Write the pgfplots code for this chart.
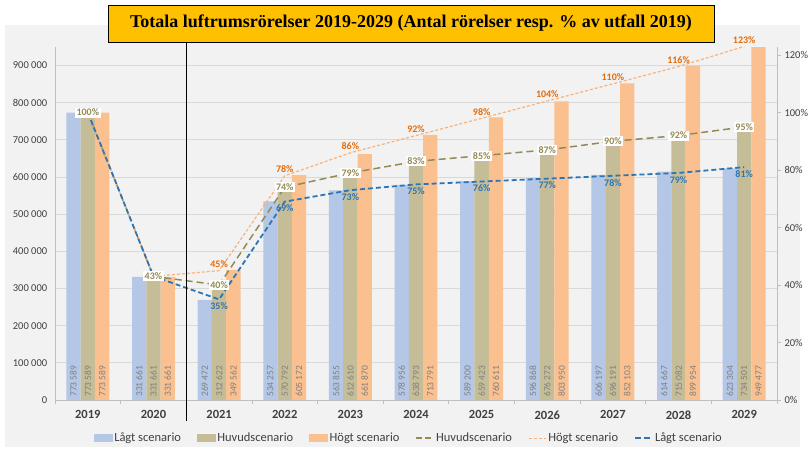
\documentclass[border=0pt]{standalone}
\usepackage{fontspec}
\setmainfont{Carlito}
\newfontfamily\titlefont{Liberation Serif}
\usepackage{pgfplots}
\pgfplotsset{compat=1.18}

\definecolor{lagt}{HTML}{B4C7E7}
\definecolor{huvud}{HTML}{C4BD97}
\definecolor{hogt}{HTML}{FAC090}
\definecolor{lagtline}{HTML}{2E75B6}
\definecolor{huvudline}{HTML}{948A54}
\definecolor{hogtline}{HTML}{F9B27C}
\definecolor{hogttext}{HTML}{E46C0A}
\definecolor{bg}{HTML}{F2F2F2}
\definecolor{gridc}{HTML}{D9D9D9}
\definecolor{axisc}{HTML}{BFBFBF}
\definecolor{titlebg}{HTML}{FFC000}
\definecolor{txt}{HTML}{404040}

\pgfplotsset{
  base/.style={
    at={(0,0)}, anchor=south west, scale only axis,
    width=722pt, height=353pt,
    xmin=-0.5, xmax=10.5,
    /pgf/number format/assume math mode=true,
    tick label style={text=txt, font=\fontsize{10.5}{12}\selectfont},
  },
  barlabels/.style={
    nodes near coords={\pgfmathprintnumber[fixed,precision=0,1000 sep={\hspace{0.22em}}]{\pgfplotspointmeta}},
    visualization depends on={y \as \rawy},
    every node near coord/.append style={
      shift={(axis direction cs:0,-\rawy)}, yshift=2pt, rotate=90, anchor=west,
      text=gray, font=\fontsize{9.5}{10}\selectfont, inner sep=1pt},
  },
  box legend/.style={legend image code/.code={
    \fill[#1] (0pt,-3.5pt) rectangle (18pt,4pt);}},
}

\begin{document}
\begin{tikzpicture}
\useasboundingbox (-55pt,-49pt) rectangle (755pt,400pt);
\fill[white] (-55pt,-49pt) rectangle (755pt,400pt);
\fill[bg] (-50pt,-47pt) rectangle (745pt,375pt);

\begin{axis}[base,
  ymin=0, ymax=950000, scaled y ticks=false,
  axis x line*=bottom, axis y line*=left,
  axis line style={axisc, line width=0.8pt},
  xtick={0,...,10},
  xticklabels={2019,2020,2021,2022,2023,2024,2025,2026,2027,2028,2029},
  x tick label style={font=\bfseries\fontsize{12.5}{14}\selectfont, yshift=-3pt},
  major x tick style={draw=none},
  minor xtick={-0.5,0.5,...,10.5},
  minor x tick style={axisc, line width=0.8pt},
  minor tick length=4pt, tick align=outside,
  ytick={0,100000,...,900000},
  yticklabels={0,100 000,200 000,300 000,400 000,500 000,600 000,700 000,800 000,900 000},
  major y tick style={draw=none},
  ymajorgrids, grid style={gridc, line width=0.8pt},
  ybar=0pt, bar width=14.3pt,
]
\addplot[fill=lagt, draw=none, barlabels] coordinates {
  (0,773589) (1,331661) (2,269472) (3,534257) (4,563855) (5,578956)
  (6,589200) (7,596868) (8,606197) (9,614667) (10,623304)};
\addplot[fill=huvud, draw=none, barlabels] coordinates {
  (0,773589) (1,331661) (2,312622) (3,570792) (4,612610) (5,638793)
  (6,659423) (7,676272) (8,696191) (9,715082) (10,734501)};
\addplot[fill=hogt, draw=none, barlabels] coordinates {
  (0,773589) (1,331661) (2,349562) (3,605172) (4,661870) (5,713791)
  (6,760611) (7,803950) (8,852103) (9,899954) (10,949477)};
\end{axis}

\begin{axis}[base, clip=false,
  ymin=0, ymax=122.80,
  axis x line=none, axis y line*=right,
  axis line style={axisc, line width=0.8pt},
  ytick={0,20,...,120},
  yticklabels={0\%,20\%,40\%,60\%,80\%,100\%,120\%},
  tick align=outside, major tick length=4pt,
  major y tick style={axisc, line width=0.8pt},
  legend columns=6,
  legend style={at={(0.49,-0.108)}, anchor=center, draw=none, fill=none,
    font=\fontsize{12.5}{14}\selectfont, text=txt,
    /tikz/every even column/.append style={column sep=14pt}},
  legend entries={Lågt scenario,Huvudscenario,Högt scenario,Huvudscenario,Högt scenario,Lågt scenario},
]
\addlegendimage{box legend=lagt}
\addlegendimage{box legend=huvud}
\addlegendimage{box legend=hogt}
\addlegendimage{huvudline, line width=1.5pt, dash pattern=on 6pt off 3pt}
\addlegendimage{hogtline, line width=1.2pt, dash pattern=on 3pt off 2pt}
\addlegendimage{lagtline, line width=1.8pt, dash pattern=on 6pt off 3pt}

\addplot[forget plot, huvudline, line width=1.5pt, dash pattern=on 7pt off 4pt,
  nodes near coords, point meta=explicit symbolic,
  every node near coord/.append style={anchor=center, fill=white, inner sep=1.5pt,
    text=huvudline, font=\bfseries\fontsize{10}{12}\selectfont}]
  coordinates {(0,100) [100\%] (1,43) [43\%] (2,40) [40\%] (3,74) [74\%]
  (4,79) [79\%] (5,83) [83\%] (6,85) [85\%] (7,87) [87\%] (8,90) [90\%]
  (9,92) [92\%] (10,95) [95\%]};
\addplot[forget plot, hogtline, line width=1.2pt, dash pattern=on 3pt off 2pt,
  nodes near coords, point meta=explicit symbolic,
  every node near coord/.append style={anchor=south, yshift=1pt, inner sep=1.5pt,
    text=hogttext, font=\bfseries\fontsize{10}{12}\selectfont}]
  coordinates {(0,100) [] (1,43) [] (2,45) [45\%] (3,78) [78\%]
  (4,86) [86\%] (5,92) [92\%] (6,98) [98\%] (7,104) [104\%] (8,110) [110\%]
  (9,116) [116\%] (10,123) [123\%]};
\addplot[forget plot, lagtline, line width=1.8pt, dash pattern=on 5pt off 3pt,
  nodes near coords, point meta=explicit symbolic,
  every node near coord/.append style={anchor=north, yshift=-1pt, inner sep=1.5pt,
    text=lagtline, font=\bfseries\fontsize{10}{12}\selectfont}]
  coordinates {(0,100) [] (1,43) [] (2,35) [35\%] (3,69) [69\%]
  (4,73) [73\%] (5,75) [75\%] (6,76) [76\%] (7,77) [77\%] (8,78) [78\%]
  (9,79) [79\%] (10,81) [81\%]};
\end{axis}

\draw[black, line width=1.2pt] (131.3pt,-21pt) -- (131.3pt,358pt);
\node[fill=titlebg, draw=black, line width=0.8pt, minimum width=606pt,
  minimum height=37pt, inner sep=0pt] at (356pt,376.5pt)
  {\titlefont\bfseries\fontsize{18}{20}\selectfont Totala luftrumsrörelser 2019-2029 (Antal rörelser resp. \% av utfall 2019)};
\end{tikzpicture}
\end{document}
